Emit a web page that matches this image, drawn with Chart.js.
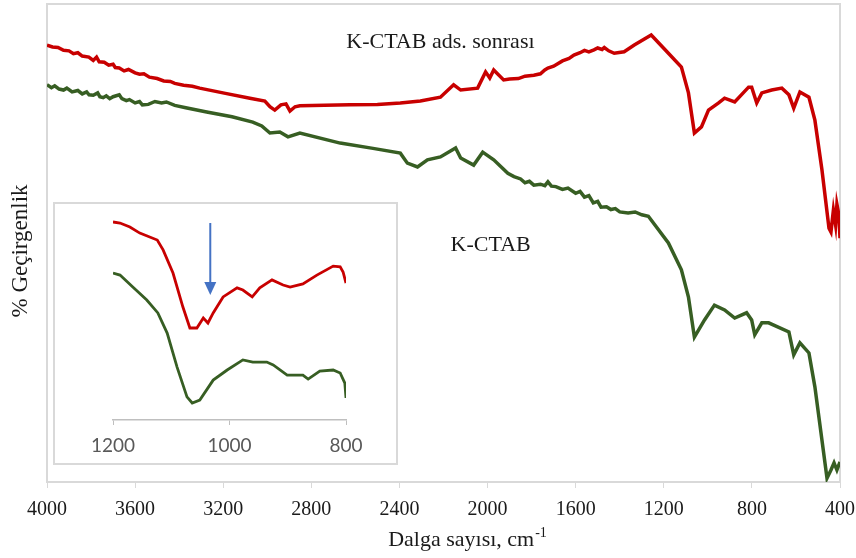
<!DOCTYPE html>
<html>
<head>
<meta charset="utf-8">
<script src="https://cdn.jsdelivr.net/npm/chart.js@4.4.1/dist/chart.umd.min.js"></script>
<style>
  body { margin: 0; background: #fff; }
  #wrap { position: relative; width: 856px; height: 558px; }
  #inset { position: absolute; left: 53px; top: 202px; border: 2px solid #d9d9d9; background: #fff; }
  canvas { display: block; }
</style>
</head>
<body>
<div id="wrap">
  <canvas id="ftir" width="856" height="558"></canvas>
  <div id="inset"><canvas id="zoomChart" width="341" height="259"></canvas></div>
</div>
<script>
// FTIR spektrumları (% geçirgenlik, keyfi ölçek)
const adsWave = [4000, 3975, 3950, 3925, 3900, 3880, 3860, 3840, 3810, 3790, 3775, 3763, 3740, 3720, 3700, 3690, 3672, 3650, 3630, 3600, 3580, 3560, 3535, 3500, 3470, 3440, 3420, 3380, 3340, 3307, 3190, 3079, 3011, 2988, 2966, 2938, 2915, 2897, 2874, 2852, 2740, 2624, 2500, 2396, 2305, 2214, 2154, 2122, 2045, 2009, 1990, 1972, 1927, 1900, 1860, 1830, 1790, 1760, 1740, 1726, 1700, 1660, 1630, 1608, 1580, 1560, 1540, 1517, 1500, 1480, 1470, 1450, 1425, 1380, 1334, 1257, 1179, 1120, 1088, 1061, 1029, 997, 951, 924, 878, 815, 801, 778, 755, 710, 664, 632, 610, 582, 541, 514, 482, 450, 441, 430, 420, 414, 405, 400];
const adsVal = [91.4, 91.0, 90.9, 90.3, 90.2, 89.6, 89.8, 89.1, 88.9, 88.2, 88.9, 87.9, 87.8, 87.2, 87.4, 86.7, 86.6, 86.0, 86.3, 85.6, 85.3, 85.4, 84.7, 84.4, 83.9, 83.8, 83.4, 83.0, 82.8, 82.4, 81.3, 80.3, 79.7, 78.5, 77.8, 78.9, 79.1, 77.6, 78.5, 78.7, 78.8, 78.9, 79.0, 79.3, 79.7, 80.5, 83.1, 82.0, 82.4, 85.8, 84.5, 86.2, 84.1, 84.3, 84.4, 84.9, 85.1, 85.4, 86.2, 86.6, 87.0, 88.1, 88.6, 89.3, 89.8, 90.3, 90.0, 90.4, 90.8, 90.5, 90.9, 90.2, 89.7, 90.0, 91.4, 93.5, 89.7, 86.8, 81.4, 73.0, 74.3, 77.8, 79.3, 80.3, 79.5, 82.6, 82.6, 79.3, 81.4, 82.0, 82.4, 81.0, 78.2, 81.6, 80.5, 75.7, 65.3, 53.1, 52.3, 56.9, 53.8, 58.1, 55.9, 51.0];

const kctabWave = [4000, 3980, 3965, 3945, 3925, 3910, 3886, 3860, 3840, 3820, 3809, 3790, 3770, 3760, 3745, 3731, 3715, 3700, 3672, 3660, 3640, 3626, 3600, 3580, 3567, 3540, 3510, 3480, 3458, 3420, 3370, 3275, 3160, 3066, 3025, 2988, 2943, 2906, 2852, 2669, 2520, 2396, 2364, 2318, 2273, 2214, 2145, 2122, 2063, 2022, 1972, 1908, 1880, 1850, 1830, 1810, 1790, 1760, 1740, 1726, 1710, 1690, 1660, 1635, 1600, 1580, 1560, 1540, 1520, 1500, 1485, 1460, 1440, 1420, 1400, 1362, 1330, 1300, 1270, 1179, 1120, 1088, 1061, 1015, 970, 924, 878, 824, 801, 787, 755, 724, 632, 610, 582, 541, 514, 482, 459, 441, 427, 414, 400];
const kctabVal = [83.1, 82.5, 82.9, 82.2, 82.0, 82.4, 81.6, 81.9, 81.2, 81.6, 81.0, 80.9, 81.4, 80.6, 80.4, 80.8, 80.2, 80.6, 81.0, 80.2, 79.8, 80.0, 79.3, 79.6, 78.9, 79.0, 79.6, 79.3, 79.5, 78.8, 78.3, 77.4, 76.4, 75.3, 74.5, 73.0, 73.2, 72.2, 73.0, 70.9, 69.8, 68.8, 66.7, 65.9, 67.4, 68.0, 69.9, 67.8, 66.3, 69.0, 67.4, 64.6, 63.9, 63.4, 62.6, 62.9, 62.1, 62.3, 62.0, 62.8, 61.9, 61.8, 61.2, 61.5, 60.4, 60.8, 59.6, 59.9, 58.4, 58.7, 57.5, 57.6, 57.0, 57.2, 56.5, 56.3, 56.5, 55.9, 55.6, 50.0, 44.4, 38.7, 30.3, 33.9, 37.0, 36.0, 34.3, 35.4, 33.9, 30.8, 33.3, 33.3, 31.4, 26.6, 29.1, 27.0, 19.9, 8.8, 0.8, 2.5, 4.0, 2.5, 4.2];

// 1200-800 cm-1 bölgesi (büyütülmüş)
const insetAdsWave = [1200, 1188, 1171, 1154, 1124, 1114, 1097, 1080, 1068, 1056, 1045, 1037, 1028, 1011, 987, 977, 961, 948, 927, 908, 896, 874, 850, 822, 810, 805, 800];
const insetAdsVal = [94.3, 93.8, 91.9, 89.0, 85.7, 81.0, 70.0, 53.8, 43.8, 43.8, 48.6, 46.2, 51.0, 58.6, 62.9, 61.9, 58.6, 62.9, 66.7, 64.3, 63.3, 64.8, 69.0, 73.3, 72.9, 70.5, 65.2];
const insetKWave = [1200, 1188, 1166, 1142, 1123, 1107, 1090, 1073, 1064, 1051, 1028, 1004, 977, 960, 936, 925, 901, 874, 865, 845, 822, 810, 802, 800];
const insetKVal = [70.0, 69.0, 63.3, 57.1, 51.0, 41.4, 25.2, 11.0, 8.1, 9.5, 19.0, 23.8, 28.6, 27.6, 27.6, 26.2, 21.4, 21.4, 19.5, 23.3, 23.8, 22.4, 17.6, 10.5];

const arrowWave = 1033;
const arrowFrom = 93.8, arrowTo = 59.5;

const RED = '#c80000';
const GREEN = '#375e23';
const serif = '"Liberation Serif", "Times New Roman", serif';

const toPoints = (xs, ys) => xs.map((x, i) => ({ x: x, y: ys[i] }));

// çizim alanının çerçevesi, eksen başlıkları ve eğri etiketleri
const framePlugin = {
    id: 'frame',
    beforeDatasetsDraw(chart) {
        const { ctx, chartArea: a } = chart;
        ctx.save();
        ctx.strokeStyle = '#d9d9d9';
        ctx.lineWidth = 2;
        ctx.strokeRect(a.left, a.top, a.right - a.left, a.bottom - a.top);
        ctx.restore();
    },
    afterDraw(chart) {
        const { ctx, scales } = chart;
        ctx.save();
        ctx.fillStyle = '#1a1a1a';
        ctx.textBaseline = 'middle';

        ctx.font = '22px ' + serif;
        ctx.textAlign = 'center';
        ctx.fillText('K-CTAB ads. sonrası', scales.x.getPixelForValue(2214), scales.y.getPixelForValue(92.1));
        ctx.fillText('K-CTAB', scales.x.getPixelForValue(1986), scales.y.getPixelForValue(49.6));

        // x ekseni başlığı, üst simge ile
        const main = 'Dalga sayısı, cm';
        const sup = '-1';
        ctx.font = '22px ' + serif;
        const w1 = ctx.measureText(main).width;
        ctx.font = '14px ' + serif;
        const w2 = ctx.measureText(sup).width;
        const x0 = 467 - (w1 + w2) / 2;
        ctx.textAlign = 'left';
        ctx.font = '22px ' + serif;
        ctx.fillText(main, x0, 540);
        ctx.font = '14px ' + serif;
        ctx.fillText(sup, x0 + w1 + 1, 533);

        // y ekseni başlığı
        ctx.translate(21, 251);
        ctx.rotate(-Math.PI / 2);
        ctx.textAlign = 'center';
        ctx.font = '23px ' + serif;
        ctx.fillText('% Geçirgenlik', 0, 0);
        ctx.restore();
    }
};

new Chart(document.getElementById('ftir'), {
    type: 'line',
    data: {
        datasets: [
            { label: 'K-CTAB ads. sonrası', data: toPoints(adsWave, adsVal), borderColor: RED, borderWidth: 3.5, pointRadius: 0, tension: 0 },
            { label: 'K-CTAB', data: toPoints(kctabWave, kctabVal), borderColor: GREEN, borderWidth: 3.5, pointRadius: 0, tension: 0 }
        ]
    },
    options: {
        responsive: false,
        animation: false,
        layout: { padding: { top: 4, right: 16, bottom: 0, left: 0 } },
        plugins: { legend: { display: false }, tooltip: { enabled: false } },
        scales: {
            x: {
                type: 'linear',
                reverse: true,
                min: 400,
                max: 4000,
                afterFit(scale) { scale.height = 76; scale.paddingLeft = 0; scale.paddingRight = 0; },
                border: { color: '#d9d9d9', width: 2 },
                grid: { drawOnChartArea: false, drawTicks: true, tickLength: 6, color: '#d9d9d9' },
                ticks: { stepSize: 400, maxRotation: 0, padding: 10, color: '#1a1a1a', font: { family: serif, size: 20 }, callback: v => String(v) }
            },
            y: {
                min: 0,
                max: 100,
                afterFit(scale) { scale.width = 47; },
                border: { display: false },
                grid: { display: false },
                ticks: { display: false }
            }
        }
    },
    plugins: [framePlugin]
});

// iç grafikteki ok
const arrowPlugin = {
    id: 'arrow',
    afterDatasetsDraw(chart) {
        const { ctx, scales } = chart;
        const x = scales.x.getPixelForValue(arrowWave);
        const y0 = scales.y.getPixelForValue(arrowFrom);
        const y1 = scales.y.getPixelForValue(arrowTo);
        ctx.save();
        ctx.strokeStyle = '#4472c4';
        ctx.fillStyle = '#4472c4';
        ctx.lineWidth = 2;
        ctx.beginPath();
        ctx.moveTo(x, y0);
        ctx.lineTo(x, y1 - 12);
        ctx.stroke();
        ctx.beginPath();
        ctx.moveTo(x - 6, y1 - 13);
        ctx.lineTo(x + 6, y1 - 13);
        ctx.lineTo(x, y1);
        ctx.closePath();
        ctx.fill();
        ctx.restore();
    }
};

new Chart(document.getElementById('zoomChart'), {
    type: 'line',
    data: {
        datasets: [
            { data: toPoints(insetAdsWave, insetAdsVal), borderColor: RED, borderWidth: 2.8, pointRadius: 0, tension: 0 },
            { data: toPoints(insetKWave, insetKVal), borderColor: GREEN, borderWidth: 2.8, pointRadius: 0, tension: 0 }
        ]
    },
    options: {
        responsive: false,
        animation: false,
        layout: { padding: { top: 6, right: 50, bottom: 0, left: 58 } },
        plugins: { legend: { display: false }, tooltip: { enabled: false } },
        scales: {
            x: {
                type: 'linear',
                reverse: true,
                min: 800,
                max: 1200,
                afterFit(scale) { scale.height = 43; scale.paddingLeft = 0; scale.paddingRight = 0; },
                border: { color: '#bfbfbf', width: 1.5 },
                grid: { drawOnChartArea: false, drawTicks: true, tickLength: 5, color: '#bfbfbf' },
                ticks: { stepSize: 200, maxRotation: 0, padding: 9, color: '#595959', font: { family: 'Lato', size: 19 }, callback: v => String(v) }
            },
            y: { display: false, min: 0, max: 100 }
        }
    },
    plugins: [arrowPlugin]
});
</script>
</body>
</html>
